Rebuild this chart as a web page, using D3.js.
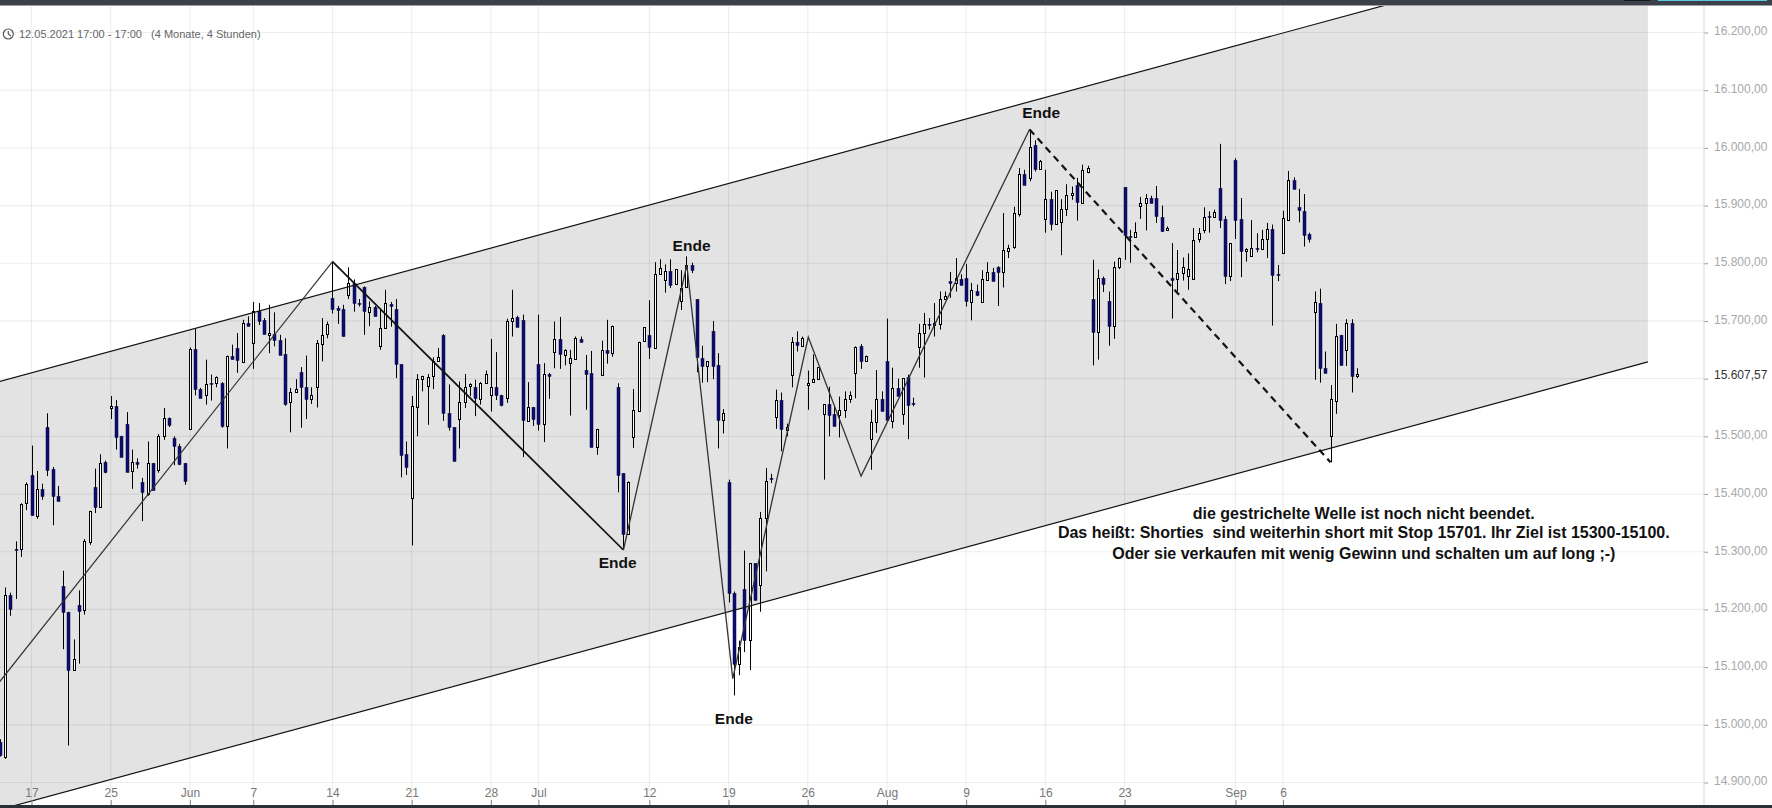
<!DOCTYPE html>
<html>
<head>
<meta charset="utf-8">
<title>12.05.2021 17:00 - 17:00</title>
<script src="https://cdn.jsdelivr.net/npm/d3@7"></script>
<style>
  html, body { margin: 0; padding: 0; background: #fff; overflow: hidden; }
  svg { display: block; }
  text { font-family: "Liberation Sans", Arial, sans-serif; }
</style>
</head>
<body>
<div id="chart"></div>
<script>
// 4h candles, 15 per line. index 0 is the candle on the "17" tick
const firstIndex = -6

const opens = [
  14970,14945,15225,15305,15305,15384,15433,15363,15409,15517,15443,15397,15240,15196,15095,
  15208,15198,15318,15413,15378,15455,15549,15553,15501,15522,15439,15455,15421,15400,15453,
  15442,15500,15532,15497,15483,15453,15514,15652,15582,15571,15592,15592,15592,15518,15639,
  15653,15630,15697,15662,15718,15702,15676,15677,15667,15642,15558,15576,15611,15585,15564,
  15584,15661,15676,15739,15723,15720,15744,15765,15732,15758,15716,15725,15656,15687,15730,
  15720,15625,15470,15393,15551,15599,15588,15604,15630,15676,15540,15516,15530,15559,15586,
  15585,15566,15592,15571,15585,15571,15566,15700,15707,15702,15527,15551,15625,15522,15608,
  15645,15668,15642,15628,15634,15668,15615,15610,15481,15607,15650,15645,15585,15436,15331,
  15499,15545,15664,15675,15653,15781,15770,15786,15764,15735,15758,15797,15738,15635,15621,
  15683,15624,15528,15421,15229,15106,15235,15146,15280,15241,15358,15427,15533,15563,15510,
  15605,15663,15657,15588,15593,15599,15539,15556,15539,15537,15546,15565,15610,15657,15631,
  15495,15525,15565,15631,15527,15584,15539,15603,15557,15655,15679,15695,15692,15695,15738,
  15770,15766,15773,15774,15734,15752,15734,15771,15785,15793,15784,15822,15828,15886,15955,
  15949,16005,15964,15876,15911,15868,15872,15894,15917,15936,15905,15959,15738,15680,15774,
  15735,15691,15794,15932,15848,15846,15898,15904,15913,15913,15880,15858,15774,15773,15783,
  15778,15773,15841,15857,15882,15881,15930,15876,15777,15979,15876,15821,15813,15826,15825,
  15842,15859,15781,15818,15875,15945,15897,15891,15851,15715,15731,15619,15500,15562,15675,
  15649,15696,15604
]
const highs = [
  14975,15238,15229,15318,15384,15420,15484,15440,15418,15540,15447,15414,15267,15196,15148,
  15233,15322,15371,15444,15469,15458,15570,15563,15501,15542,15477,15462,15428,15491,15454,
  15504,15549,15533,15500,15487,15454,15654,15686,15584,15633,15607,15604,15594,15640,15659,
  15679,15702,15708,15733,15731,15705,15728,15715,15676,15670,15584,15599,15620,15640,15585,
  15667,15705,15699,15803,15726,15728,15793,15772,15738,15760,15734,15726,15719,15754,15733,
  15738,15625,15491,15570,15608,15605,15608,15637,15653,15677,15590,15516,15595,15608,15592,
  15598,15594,15614,15669,15646,15572,15704,15754,15709,15711,15594,15551,15711,15627,15610,
  15699,15707,15651,15650,15673,15673,15641,15648,15513,15666,15702,15692,15592,15436,15422,
  15582,15664,15689,15736,15802,15807,15798,15807,15790,15788,15812,15801,15738,15657,15630,
  15700,15644,15547,15425,15231,15146,15302,15280,15280,15369,15445,15435,15581,15576,15522,
  15672,15682,15673,15614,15642,15620,15556,15586,15553,15569,15578,15578,15656,15660,15640,
  15546,15615,15578,15704,15619,15600,15601,15607,15567,15695,15714,15705,15731,15751,15751,
  15785,15809,15781,15799,15766,15763,15788,15802,15792,15795,15887,15832,15898,15965,15962,
  16032,16013,15979,15962,15924,15927,15911,15937,15933,15948,15971,15969,15806,15789,15777,
  15751,15803,15810,15932,15858,15871,15915,15920,15917,15934,15900,15864,15835,15823,15810,
  15817,15861,15861,15897,15890,15893,16007,15882,15835,15982,15913,15826,15875,15852,15858,
  15870,15867,15797,15891,15960,15949,15929,15920,15853,15751,15756,15647,15589,15695,15676,
  15703,15703,15618
]
const lows = [
  14945,14941,15189,15218,15291,15372,15362,15357,15390,15431,15346,15388,15131,14964,15094,
  15106,15191,15312,15367,15377,15436,15530,15477,15465,15439,15409,15444,15353,15397,15406,
  15437,15494,15516,15450,15450,15416,15514,15571,15567,15555,15562,15585,15515,15479,15633,
  15610,15627,15692,15617,15693,15677,15644,15656,15641,15553,15507,15576,15515,15530,15556,
  15550,15630,15670,15713,15695,15673,15738,15716,15725,15676,15691,15708,15650,15687,15690,
  15601,15429,15433,15311,15500,15578,15520,15582,15630,15527,15510,15457,15479,15549,15570,
  15535,15555,15591,15543,15563,15552,15558,15673,15690,15464,15526,15518,15510,15490,15565,
  15618,15617,15623,15536,15633,15663,15546,15481,15468,15605,15626,15638,15403,15305,15331,
  15480,15545,15664,15634,15653,15781,15749,15757,15764,15719,15758,15783,15611,15593,15594,
  15599,15479,15505,15212,15051,15086,15126,15095,15216,15196,15266,15419,15513,15474,15500,
  15585,15647,15657,15546,15593,15599,15425,15500,15519,15498,15532,15558,15566,15617,15631,
  15442,15506,15545,15528,15514,15570,15520,15495,15552,15619,15602,15685,15673,15685,15738,
  15740,15751,15763,15725,15701,15743,15734,15771,15770,15726,15758,15809,15825,15881,15936,
  15942,15959,15964,15853,15857,15868,15814,15882,15910,15874,15903,15956,15623,15633,15750,
  15657,15669,15790,15806,15801,15846,15877,15857,15905,15870,15854,15857,15704,15751,15770,
  15754,15771,15836,15852,15853,15881,15861,15764,15769,15842,15776,15803,15813,15819,15825,
  15809,15692,15769,15817,15875,15930,15871,15829,15836,15598,15593,15611,15455,15539,15623,
  15622,15576,15601
]
const closes = [
  14948,15225,15201,15303,15383,15417,15363,15409,15397,15442,15397,15388,15195,15095,15114,
  15198,15318,15371,15378,15454,15438,15553,15500,15465,15439,15455,15451,15403,15453,15406,
  15501,15532,15520,15483,15451,15422,15652,15582,15567,15590,15590,15603,15517,15639,15633,
  15632,15697,15692,15718,15701,15677,15679,15666,15641,15556,15576,15582,15585,15564,15571,
  15661,15676,15694,15720,15720,15673,15765,15730,15731,15716,15724,15710,15687,15731,15727,
  15624,15468,15448,15552,15599,15604,15603,15630,15637,15541,15515,15457,15559,15585,15590,
  15566,15593,15608,15585,15571,15554,15700,15706,15690,15529,15551,15531,15521,15608,15604,
  15668,15642,15650,15636,15670,15663,15608,15481,15513,15650,15645,15692,15432,15331,15421,
  15545,15664,15689,15654,15781,15791,15786,15762,15790,15757,15797,15788,15637,15621,15630,
  15623,15528,15540,15229,15106,15135,15147,15280,15216,15358,15422,15426,15563,15513,15516,
  15663,15657,15671,15592,15599,15620,15556,15537,15519,15545,15565,15572,15655,15631,15640,
  15525,15565,15545,15528,15584,15570,15601,15555,15555,15679,15695,15693,15696,15738,15744,
  15767,15774,15763,15734,15754,15745,15773,15785,15770,15784,15823,15827,15887,15955,15936,
  16002,15964,15977,15911,15868,15927,15894,15919,15921,15907,15962,15966,15680,15774,15764,
  15691,15794,15809,15848,15846,15854,15904,15913,15905,15881,15856,15861,15770,15783,15793,
  15790,15840,15852,15880,15880,15889,15875,15777,15835,15875,15821,15825,15826,15825,15842,
  15859,15779,15780,15878,15945,15930,15891,15850,15843,15733,15619,15611,15564,15674,15623,
  15696,15604,15608
]

// axis
const priceTicks = [14900,15000,15100,15200,15300,15400,15500,15700,15800,15900,16000,16100,16200]
const gridPrices = [14900,15000,15100,15200,15300,15400,15500,15600,15700,15800,15900,16000,16100,16200]
const lastPrice = 15607.57
const dateTicks = [0,15,30,42,57,72,87,96,117,132,147,162,177,192,207,228,237]
const dateLabels = ["17","25","Jun","7","14","21","28","Jul","12","19","26","Aug","9","16","23","Sep","6"]

// drawn lines, [candle index, price]
const channelTop = [[-6,15595],[306.1,16371]]
const channelBottom = [[-6,14853],[306.1,15629]]
const waveThin1 = [[-6,15075],[57,15803]]
const waveThick = [[57,15803],[112.1,15303]]
const waveThin2 = [[112.1,15303],[124.1,15797],[132.8,15080],[147.1,15672],[157.1,15431],[189,16032]]
const waveDashed = [[189,16032],[246,15455]]

const endeIndex = [111,125,133,191.2]
const endePrice = [15271,15822,15002,16052]

const noteLines = [
  "die gestrichelte Welle ist noch nicht beendet.",
  "Das heißt: Shorties  sind weiterhin short mit Stop 15701. Ihr Ziel ist 15300-15100.",
  "Oder sie verkaufen mit wenig Gewinn und schalten um auf long ;-)"
]
const notePrice = [15357,15323,15288]
const noteIndex = 252.3

const headerText = "12.05.2021 17:00 - 17:00\u00a0\u00a0\u00a0(4 Monate, 4 Stunden)"

const width = 1772
const height = 808
const plotTop = 6
const plotBottom = 805
const axisX = 1704

const x = d3.scaleLinear().domain([0, 237]).range([31.5, 1283])
const y = d3.scaleLinear().domain([14900, 16200]).range([782.5, 32.5])
const deFormat = d3.formatLocale({decimal: ",", thousands: ".", grouping: [3], currency: ["", ""]}).format(",.2f")

// snap to the pixel grid, the original chart is drawn on whole pixels
const snap = v => Math.round(v) + 0.5

const svg = d3.select("#chart").append("svg").attr("width", width).attr("height", height)

svg.append("defs").append("clipPath").attr("id", "plot")
  .append("rect").attr("x", 0).attr("y", plotTop).attr("width", axisX).attr("height", plotBottom - plotTop)

const plot = svg.append("g").attr("clip-path", "url(#plot)")
const line = d3.line().x(d => x(d[0])).y(d => y(d[1]))

// channel fill
plot.append("path")
  .attr("d", line(channelTop.concat(channelBottom.slice().reverse())) + "Z")
  .attr("fill", "#e3e3e3")

// grid on top of the fill
plot.append("g").selectAll("line").data(gridPrices).enter().append("line")
  .attr("x1", 0).attr("x2", axisX).attr("y1", d => y(d)).attr("y2", d => y(d))
  .attr("stroke", "#000").attr("stroke-opacity", 0.065).attr("stroke-width", 1.2)
plot.append("g").selectAll("line").data(dateTicks).enter().append("line")
  .attr("x1", d => x(d)).attr("x2", d => x(d)).attr("y1", plotTop).attr("y2", plotBottom)
  .attr("stroke", "#000").attr("stroke-opacity", 0.065).attr("stroke-width", 1.2)

// candles
const isDown = i => closes[i] < opens[i]
const candles = plot.append("g").selectAll("g").data(d3.range(opens.length)).enter().append("g")
candles.append("line")
  .attr("x1", i => snap(x(i + firstIndex))).attr("x2", i => snap(x(i + firstIndex)))
  .attr("y1", i => y(highs[i])).attr("y2", i => y(lows[i]))
  .attr("stroke", "#000").attr("stroke-width", 1)
candles.append("rect")
  .attr("x", i => snap(x(i + firstIndex)) - (isDown(i) ? 1.5 : 1))
  .attr("width", i => isDown(i) ? 3 : 2)
  .attr("y", i => snap(y(Math.max(opens[i], closes[i]))))
  .attr("height", i => Math.max(1, Math.round(Math.abs(y(opens[i]) - y(closes[i])))))
  .attr("fill", i => isDown(i) ? "#0c0c72" : "#fff")
  .attr("stroke", i => isDown(i) ? "#06063c" : "#000")
  .attr("stroke-width", i => isDown(i) ? 0.5 : 1)

// channel + wave lines
const lines = [
  [channelTop, 1.2, "#111", null],
  [channelBottom, 1.2, "#111", null],
  [waveThin1, 1.2, "#333", null],
  [waveThick, 1.7, "#111", null],
  [waveThin2, 1.3, "#333", null],
  [waveDashed, 2.2, "#111", "7,5"]
]
plot.append("g").selectAll("path").data(lines).enter().append("path")
  .attr("d", d => line(d[0]))
  .attr("fill", "none")
  .attr("stroke-width", d => d[1])
  .attr("stroke", d => d[2])
  .attr("stroke-dasharray", d => d[3])

// right axis
const yAxis = d3.axisRight(y).tickValues(gridPrices).tickSize(4)
  .tickFormat(d => priceTicks.includes(d) ? deFormat(d) : "")
const yG = svg.append("g").attr("transform", `translate(${axisX},0)`).call(yAxis)
yG.select(".domain").remove()
yG.selectAll(".tick line").attr("stroke", "#999")
yG.selectAll(".tick text").attr("x", 10).attr("dy", "0.2em")
  .attr("font-size", 12).attr("font-family", "Liberation Sans").attr("fill", "#a8a8a8")
svg.append("line").attr("x1", axisX).attr("x2", axisX).attr("y1", plotTop).attr("y2", plotBottom)
  .attr("stroke", "#d9d9d9").attr("stroke-width", 1)
svg.append("text").attr("x", axisX + 10).attr("y", y(lastPrice) + 4.5)
  .attr("font-size", 12).attr("fill", "#333").text(deFormat(lastPrice))

// bottom axis
const xAxis = d3.axisBottom(x).tickValues(dateTicks).tickSize(5).tickPadding(-17)
  .tickFormat((d, i) => dateLabels[i])
const xG = svg.append("g").attr("transform", `translate(0,${plotBottom - 5})`).call(xAxis)
xG.select(".domain").remove()
xG.selectAll(".tick line").attr("stroke", "#888")
xG.selectAll(".tick text").attr("font-size", 12).attr("font-family", "Liberation Sans").attr("fill", "#777")

// header
const clock = svg.append("g").attr("transform", "translate(8.3,34)")
clock.append("circle").attr("r", 5).attr("fill", "none").attr("stroke", "#555").attr("stroke-width", 1.2)
clock.append("path").attr("d", "M0,-3V0L2.5,2").attr("fill", "none").attr("stroke", "#555").attr("stroke-width", 1.1)
svg.append("text").attr("x", 19).attr("y", 38).attr("font-size", 11).attr("fill", "#666").text(headerText)

// annotations
svg.append("g").selectAll("text").data(endeIndex).enter().append("text")
  .attr("x", d => x(d)).attr("y", (d, i) => y(endePrice[i]))
  .attr("text-anchor", "middle").attr("font-size", 15.5).attr("font-weight", "bold")
  .attr("fill", "#111").text("Ende")
svg.append("g").selectAll("text").data(noteLines).enter().append("text")
  .attr("x", x(noteIndex)).attr("y", (d, i) => y(notePrice[i]))
  .attr("text-anchor", "middle").attr("font-size", 16).attr("font-weight", "bold")
  .attr("fill", "#111").style("white-space", "pre").text(d => d)

// window chrome
svg.append("rect").attr("x", 0).attr("y", 0).attr("width", width).attr("height", 5.5).attr("fill", "#3c4048")
svg.append("rect").attr("x", 1658).attr("y", 0).attr("width", 109).attr("height", 1).attr("fill", "#5cc8e0")
svg.append("rect").attr("x", 1624).attr("y", 0).attr("width", 26).attr("height", 1).attr("fill", "#15181d")
svg.append("rect").attr("x", 0).attr("y", plotBottom).attr("width", width).attr("height", height - plotBottom).attr("fill", "#2b2f36")
</script>
</body>
</html>
